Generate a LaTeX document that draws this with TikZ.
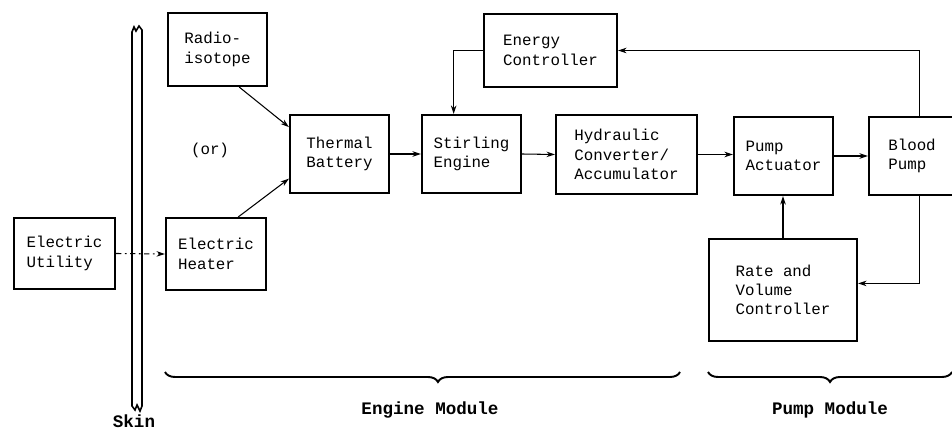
\documentclass[tikz,border=0pt]{standalone}
\usepackage{fontspec}
\newfontfamily\typefont{Liberation Mono}
\usetikzlibrary{arrows.meta,decorations.pathreplacing}

\begin{document}
\begin{tikzpicture}[x=0.02cm,y=-0.02cm,
  blk/.style 2 args={draw, line width=1.2pt, align=left, inner sep=0pt,
    minimum width=#1*0.02cm, minimum height=#2*0.02cm,
    font=\typefont\fontsize{9}{11}\selectfont},
  arr/.style={line width=0.6pt, -{Stealth[length=1.7mm,width=1.1mm]}},
  brc/.style={line width=1.1pt, decorate, decoration={brace,mirror,amplitude=0.2cm}},
  lbl/.style={font=\typefont\bfseries\fontsize{10}{12}\selectfont}]
\useasboundingbox (0,0) rectangle (952,431);
% source side:
\node[blk={101}{71}] (util) at (64.5,253.5) {Electric\\Utility};
\node[blk={100}{72}] (heater) at (216,254) {Electric\\Heater};
\node[blk={99}{73}] (radio) at (217.5,49.5) {Radio-\\isotope};
\node[font=\typefont\fontsize{9}{11}\selectfont] (or) at (210,150) {(or)};
% engine module:
\node[blk={99}{78}] (battery) at (339.5,154) {Thermal\\Battery};
\node[blk={99}{78}] (stirling) at (471.5,154) {Stirling\\Engine};
\node[blk={141}{79}] (hydraulic) at (626.5,154.5) {Hydraulic\\Converter/\\Accumulator};
\node[blk={133}{73}] (energy) at (550.5,50.5) {Energy\\Controller};
% pump module:
\node[blk={99}{78}] (actuator) at (783.5,156) {Pump\\Actuator};
\node[blk={86}{78}] (blood) at (912,156) {Blood\\Pump};
\node[blk={148}{102}] (rate) at (783,290) {Rate and\\Volume\\Controller};
% skin:
\draw[line width=0.9pt] (132,406) -- (132,32) -- (134,27) -- (136,31) -- (139,26) -- (142,30) -- (142,406)
  -- (140,411) -- (137,405) -- (135,410) -- cycle;
\node[lbl] (skin) at (134,421) {Skin};
% connectors:
\draw[arr, dash pattern=on 3pt off 2pt on 1pt off 2pt] (util.east) -- (heater.west);
\draw[arr] (radio.-60) -- (battery.152);
\draw[arr] (heater.59) -- (battery.206);
\draw[arr] (battery.east) -- (stirling.west);
\draw[arr] (stirling.east) -- (hydraulic.west);
\draw[arr] (hydraulic.east) -- (hydraulic.east -| actuator.west);
\draw[arr] (actuator.east) -- (blood.west);
\draw[arr] (blood.80) |- (energy.east);
\draw[arr] (energy.west) -| (stirling.114);
\draw[arr] (blood.-80) |- (rate.5);
\draw[arr] (rate.north) -- (rate.north |- actuator.south);
% modules:
\draw[brc, decoration={aspect=0.53}] (165,372) -- (680,372);
\draw[brc] (708,372) -- (952,372);
\node[lbl] (engmod) at (430,410) {Engine Module};
\node[lbl] (pumpmod) at (830,410) {Pump Module};
\end{tikzpicture}
\end{document}
